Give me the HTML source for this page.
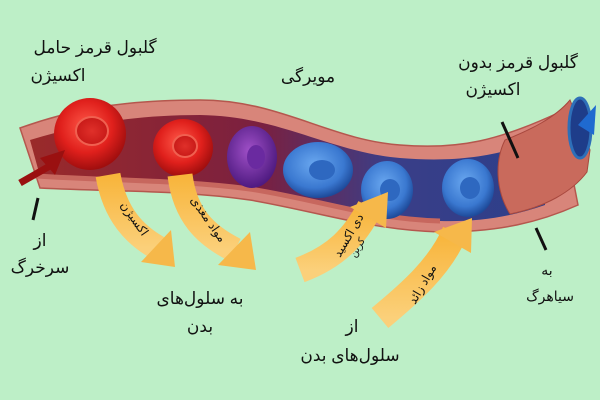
<!DOCTYPE html>
<html><head><meta charset="utf-8"><style>
html,body{margin:0;padding:0;background:#bdefc7;}
svg{display:block}
text{font-family:"Liberation Sans","DejaVu Sans",sans-serif;fill:#111;}
</style></head><body>
<svg width="600" height="400" viewBox="0 0 600 400" xmlns="http://www.w3.org/2000/svg">
<defs>
<radialGradient id="red" cx="45%" cy="40%" r="60%"><stop offset="0" stop-color="#ff5a4a"/><stop offset="0.6" stop-color="#e0201c"/><stop offset="1" stop-color="#a00e0e"/></radialGradient>
<radialGradient id="redin" cx="50%" cy="50%" r="50%"><stop offset="0" stop-color="#e0302a"/><stop offset="1" stop-color="#c81a18"/></radialGradient>
<radialGradient id="pur" cx="45%" cy="40%" r="60%"><stop offset="0" stop-color="#a050c8"/><stop offset="1" stop-color="#4e1a80"/></radialGradient>
<radialGradient id="blu" cx="45%" cy="40%" r="60%"><stop offset="0" stop-color="#6aa8f0"/><stop offset="0.7" stop-color="#3a78d0"/><stop offset="1" stop-color="#1d4a9a"/></radialGradient>
<linearGradient id="lumen" x1="0" x2="1"><stop offset="0" stop-color="#9a2a2a"/><stop offset="0.45" stop-color="#7a2040"/><stop offset="0.7" stop-color="#3a3e88"/><stop offset="1" stop-color="#2c3f8a"/></linearGradient>
<linearGradient id="org" x1="0" y1="0" x2="0" y2="1"><stop offset="0" stop-color="#f8b43a"/><stop offset="1" stop-color="#fbd07a"/></linearGradient>
</defs>
<rect width="600" height="400" fill="#bdefc7"/>
<path d="M20,128 C70,110 120,100 200,100 C280,100 330,140 400,145 C460,150 500,140 560,112 L578,205 C540,222 500,232 440,232 C370,230 320,212 250,200 C180,190 120,192 40,188 Z" fill="#d8857a" stroke="#b5574e" stroke-width="1.5"/>
<path d="M30,140 C80,125 130,115 200,115 C280,116 330,152 400,158 C460,163 500,155 540,140 L545,205 C510,217 480,222 440,221 C370,219 320,200 250,189 C180,180 120,181 40,176 Z" fill="url(#lumen)"/>
<path d="M35,176 C120,181 180,180 250,189 C320,200 370,219 440,221" stroke="#c7675e" stroke-width="5" fill="none"/>
<path d="M505,140 C530,130 555,118 570,100 L590,150 L587,172 C572,192 545,207 510,214 C495,190 495,160 505,140 Z" fill="#c96a5c" stroke="#a8483e"/>
<ellipse cx="580" cy="128" rx="11" ry="30" fill="#1e3d8a" stroke="#2e6fb8" stroke-width="3"/>
<path d="M578,125 L596,105 L594,135 Z" fill="#1f6ad0"/>
<circle cx="90" cy="134" r="36" fill="url(#red)"/>
<ellipse cx="92" cy="131" rx="16" ry="14" fill="url(#redin)" stroke="#f06050" stroke-width="2"/>
<ellipse cx="183" cy="148" rx="30" ry="29" fill="url(#red)"/>
<ellipse cx="185" cy="146" rx="12" ry="11" fill="url(#redin)" stroke="#f06050" stroke-width="2"/>
<ellipse cx="252" cy="157" rx="25" ry="31" fill="url(#pur)"/>
<ellipse cx="256" cy="157" rx="9" ry="12" fill="#6a2aa0"/>
<ellipse cx="318" cy="170" rx="35" ry="28" fill="url(#blu)"/>
<ellipse cx="322" cy="170" rx="13" ry="10" fill="#2e68c0"/>
<ellipse cx="387" cy="190" rx="26" ry="29" fill="url(#blu)"/>
<ellipse cx="390" cy="190" rx="10" ry="11" fill="#2e68c0"/>
<ellipse cx="468" cy="188" rx="26" ry="29" fill="url(#blu)"/>
<ellipse cx="470" cy="188" rx="10" ry="11" fill="#2e68c0"/>
<path d="M20,183 L55,163" stroke="#9a1010" stroke-width="7"/>
<polygon points="65,150 40,158 55,175" fill="#9a1010"/>
<path d="M108,175 C115,215 135,235 158,248" stroke="url(#org)" stroke-width="25" fill="none"/>
<polygon points="141,262 175,267 171,230" fill="#f6b84a"/>
<path d="M180,175 C185,215 205,235 235,250" stroke="url(#org)" stroke-width="25" fill="none"/>
<polygon points="218,265 256,270 250,232" fill="#f6b84a"/>
<path d="M300,270 C335,257 355,237 370,207" stroke="url(#org)" stroke-width="26" fill="none"/>
<polygon points="350,207 388,192 386,228" fill="#f6b84a"/>
<path d="M380,318 C410,293 440,267 455,232" stroke="url(#org)" stroke-width="26" fill="none"/>
<polygon points="434,232 472,218 471,253" fill="#f6b84a"/>
<text transform="translate(120,205) rotate(55)" font-size="12">اکسیژن</text>
<text transform="translate(190,200) rotate(55)" font-size="12">مواد مغذی</text>
<text transform="translate(340,258) rotate(-60)" font-size="12">دی اکسید</text>
<text transform="translate(355,258) rotate(-60)" font-size="10">کربن</text>
<text transform="translate(415,305) rotate(-60)" font-size="12">مواد زائد</text>
<line x1="38" y1="198" x2="33" y2="220" stroke="#111" stroke-width="3"/>
<line x1="502" y1="122" x2="518" y2="158" stroke="#111" stroke-width="3"/>
<line x1="536" y1="228" x2="546" y2="250" stroke="#111" stroke-width="3"/>
<g font-size="17" text-anchor="middle" direction="rtl">
<text x="95" y="53">گلبول قرمز حامل</text>
<text x="58" y="81">اکسیژن</text>
<text x="308" y="82">مویرگی</text>
<text x="518" y="68">گلبول قرمز بدون</text>
<text x="493" y="95">اکسیژن</text>
<text x="40" y="246">از</text>
<text x="40" y="273">سرخرگ</text>
<text x="200" y="304">به سلول‌های</text>
<text x="200" y="332">بدن</text>
<text x="352" y="332">از</text>
<text x="350" y="361">سلول‌های بدن</text>
</g>
<g font-size="14" text-anchor="middle" direction="rtl">
<text x="547" y="275">به</text>
<text x="550" y="301">سیاهرگ</text>
</g>
</svg>
</body></html>
